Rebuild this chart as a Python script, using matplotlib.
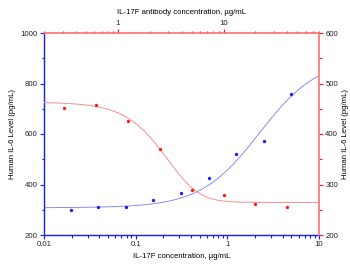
import numpy as np
import matplotlib
matplotlib.use('Agg')
import matplotlib.pyplot as plt
from matplotlib.ticker import LogLocator, FormatStrFormatter, MultipleLocator, NullFormatter

plt.rcParams['font.family'] = ['Liberation Sans', 'DejaVu Sans']

# IL-17F stimulation (bottom axis, left y)
il17f_conc = [0.0195, 0.039, 0.078, 0.156, 0.3125, 0.625, 1.25, 2.5, 5.0]
il17f_il6 = [298, 310, 310, 340, 365, 424, 520, 572, 760]
# 4PL fit parameters: bottom, top, ec50, hill
il17f_fit = (308, 900, 2.24, 1.35)

# neutralisation by antibody (top axis, right y)
ab_conc = [0.3125, 0.625, 1.25, 2.5, 5.0, 10.0, 20.0, 40.0]
ab_il6 = [451, 457, 426, 370, 289, 280, 261, 255]
# 5PL fit parameters: bottom, top, ic50, hill, asymmetry
ab_fit = (264.5, 463, 4.66, 2.0, 2.5)

blue = '#1a1aff'
blue_line = '#8c8cf0'
red = '#ff1a1a'
red_line = '#f29090'
red_spine = '#ff6e6e'

fig = plt.figure(figsize=(3.5, 2.66), dpi=100)
pos = [44 / 350, 1 - 235 / 266, 275 / 350, 202 / 266]
ax = fig.add_axes(pos)
ax2 = fig.add_axes(pos)
ax2.patch.set_alpha(0)

fs = 5.6

# blue data
xs = np.logspace(-2, 1, 300)
b, t, c, h = il17f_fit
ax.plot(xs, b + (t - b) / (1 + (c / xs) ** h), color=blue_line, lw=0.7)
ax.plot(il17f_conc, il17f_il6, 'o', color=blue, ms=2.4, mec='none')
ax.set_xscale('log')
ax.set_xlim(0.01, 10)
ax.set_ylim(200, 1000)
ax.xaxis.set_major_locator(LogLocator(base=10))
ax.xaxis.set_minor_locator(LogLocator(base=10, subs=np.arange(2, 10)))
ax.xaxis.set_major_formatter(FormatStrFormatter('%g'))
ax.xaxis.set_minor_formatter(NullFormatter())
ax.yaxis.set_major_locator(MultipleLocator(200))
ax.yaxis.set_minor_locator(MultipleLocator(100))
ax.set_xlabel('IL-17F concentration, \u00b5g/mL', fontsize=fs, labelpad=3.5)
ax.set_ylabel('Human IL-6 Level (pg/mL)', fontsize=fs, labelpad=3)
for s in ['top', 'right']:
    ax.spines[s].set_visible(False)
for s in ['left', 'bottom']:
    ax.spines[s].set_color(blue)
    ax.spines[s].set_linewidth(1.0)
ax.tick_params(which='both', colors=blue, labelcolor='#222222', labelsize=fs,
               width=0.8, pad=1.5)
ax.tick_params(which='major', length=3)
ax.tick_params(which='minor', length=1.8)

# red data
xs2 = np.logspace(np.log10(0.2), np.log10(80), 300)
b, t, c, h, g = ab_fit
ax2.plot(xs2, b + (t - b) / (1 + (xs2 / c) ** h) ** g, color=red_line, lw=0.7)
ax2.plot(ab_conc, ab_il6, 'o', color=red, ms=2.4, mec='none')
ax2.set_xscale('log')
ax2.set_xlim(0.2, 80)
ax2.set_ylim(200, 600)
ax2.xaxis.tick_top()
ax2.xaxis.set_label_position('top')
ax2.yaxis.tick_right()
ax2.yaxis.set_label_position('right')
ax2.xaxis.set_major_locator(LogLocator(base=10))
ax2.xaxis.set_minor_locator(LogLocator(base=10, subs=np.arange(2, 10)))
ax2.xaxis.set_major_formatter(FormatStrFormatter('%g'))
ax2.xaxis.set_minor_formatter(NullFormatter())
ax2.yaxis.set_major_locator(MultipleLocator(100))
ax2.yaxis.set_minor_locator(MultipleLocator(50))
ax2.set_xlabel('IL-17F antibody concentration, \u00b5g/mL', fontsize=fs, labelpad=4)
ax2.set_ylabel('Human IL-6 Level (pg/mL)', fontsize=fs, labelpad=3)
for s in ['left', 'bottom']:
    ax2.spines[s].set_visible(False)
for s in ['top', 'right']:
    ax2.spines[s].set_color(red_spine)
    ax2.spines[s].set_linewidth(1.2)
ax2.tick_params(which='both', colors=red, labelcolor='#222222', labelsize=fs,
                width=0.8, pad=1.5)
ax2.tick_params(which='major', length=3)
ax2.tick_params(which='minor', length=1.8)

fig.savefig('out.png', dpi=100)
